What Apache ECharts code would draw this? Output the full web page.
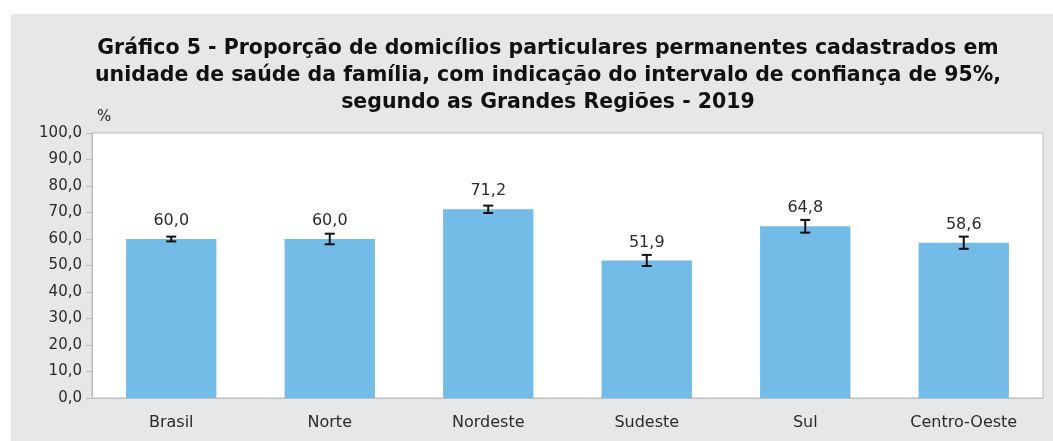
<!DOCTYPE html>
<html>
<head>
<meta charset="utf-8">
<script src="https://cdn.jsdelivr.net/npm/echarts@6/dist/echarts.min.js"></script>
<style>
  html, body { margin: 0; padding: 0; background: #fff; }
  #wrap { position: relative; width: 1053px; height: 441px; }
  #bg { position: absolute; left: 11px; top: 14px; width: 1042px; height: 427px; background: #e6e7e8; }
  #chart { position: absolute; left: 0; top: 0; width: 1053px; height: 441px; }
</style>
</head>
<body>
<div id="wrap">
  <div id="bg"></div>
  <div id="chart"></div>
</div>
<script>
  const regioes = ['Brasil', 'Norte', 'Nordeste', 'Sudeste', 'Sul', 'Centro-Oeste'];
  const proporcao = [60.0, 60.0, 71.2, 51.9, 64.8, 58.6];
  const limiteInferior = [59.1, 58.0, 69.8, 49.8, 62.4, 56.3];
  const limiteSuperior = [60.9, 62.0, 72.6, 54.0, 67.2, 60.9];

  const fonte = '"DejaVu Sans", sans-serif';
  const virgula = v => v.toFixed(1).replace('.', ',');

  const chart = echarts.init(document.getElementById('chart'));
  chart.setOption({
    backgroundColor: 'transparent',
    animation: false,
    textStyle: {fontFamily: fonte},
    title: {
      text: 'Gráfico 5 - Proporção de domicílios particulares permanentes cadastrados em\nunidade de saúde da família, com indicação do intervalo de confiança de 95%,\nsegundo as Grandes Regiões - 2019',
      left: 543, top: 30, textAlign: 'center',
      textStyle: {fontFamily: fonte, fontSize: 20.5, fontWeight: 'bold', color: '#111', lineHeight: 27}
    },
    grid: {
      left: 92, right: 10, top: 133, bottom: 43,
      show: true, backgroundColor: '#fff', borderColor: '#bdbdbd', borderWidth: 1
    },
    xAxis: {
      type: 'category', data: regioes,
      axisTick: {show: false},
      axisLine: {lineStyle: {color: '#bdbdbd'}},
      axisLabel: {fontSize: 16, color: '#2b2b2b', margin: 17, fontFamily: fonte}
    },
    yAxis: {
      type: 'value', min: 0, max: 100, interval: 10,
      name: '%', nameLocation: 'end', nameGap: 8,
      nameTextStyle: {fontSize: 15, color: '#2b2b2b', align: 'left', padding: [0, 0, 0, 5]},
      axisLine: {show: true, lineStyle: {color: '#bdbdbd'}},
      axisTick: {show: true, length: 6, lineStyle: {color: '#bdbdbd'}},
      splitLine: {show: false},
      axisLabel: {fontSize: 15, color: '#2b2b2b', margin: 10, formatter: v => virgula(v), fontFamily: fonte}
    },
    series: [
      {
        type: 'bar', data: proporcao, barWidth: '57%',
        itemStyle: {color: '#73bce7'},
        label: {
          show: true, position: 'top', distance: 10, fontSize: 16, color: '#2b2b2b',
          fontFamily: fonte, formatter: p => virgula(p.value)
        }
      },
      {
        type: 'custom',
        data: regioes.map((r, i) => [i, limiteInferior[i], limiteSuperior[i]]),
        renderItem: (params, api) => {
          const lo = api.coord([api.value(0), api.value(1)]);
          const hi = api.coord([api.value(0), api.value(2)]);
          const x = lo[0], hw = 5;
          const st = {stroke: '#111', lineWidth: 2};
          return {
            type: 'group',
            children: [
              {type: 'line', shape: {x1: x, y1: lo[1], x2: x, y2: hi[1]}, style: st},
              {type: 'line', shape: {x1: x - hw, y1: lo[1], x2: x + hw, y2: lo[1]}, style: st},
              {type: 'line', shape: {x1: x - hw, y1: hi[1], x2: x + hw, y2: hi[1]}, style: st}
            ]
          };
        },
        z: 10
      }
    ]
  });
</script>
</body>
</html>
